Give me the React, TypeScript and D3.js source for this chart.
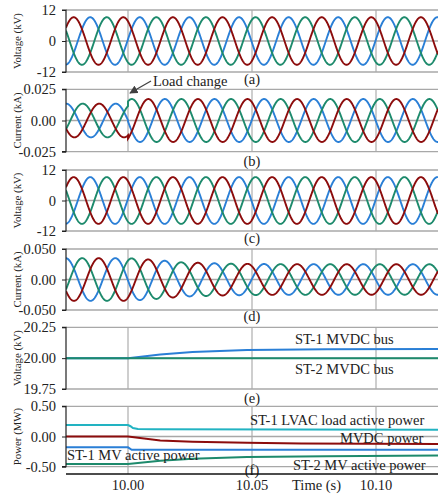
import React, { useEffect, useRef } from 'react'
import * as d3 from 'd3'

// time axis
const timeDomain = [9.975, 10.125]
const timeTicks = [10.0, 10.05, 10.1]
const timeTickLabels = ['10.00', '10.05', '10.10']
const FREQ = 50

// three-phase waveforms: blue, green, red (lag of each phase vs red, in periods)
const phaseColors = ['#2a7fd6', '#1d8a6c', '#8c0c0c']
const phaseLag = [1 / 3, 2 / 3, 0]

// (a) and (c) voltages, kV
const voltEnvTime = [9.975, 10.125]
const voltEnvAmp = [9.2, 9.2]
const voltRedPeak = 9.9981

// (b) current, kA - step at the load change
const curBBeforeTime = [9.975, 10.0]
const curBBeforeAmp = [0.0135, 0.0135]
const curBBeforePeak = 9.9884
const curBAfterTime = [10.0, 10.125]
const curBAfterAmp = [0.0172, 0.0172]
const curBAfterPeak = 10.0082

// (d) current, kA - decaying envelope
const curDEnvTime = [9.975, 10.0, 10.008, 10.015, 10.022, 10.029, 10.04, 10.06, 10.125]
const curDEnvAmp = [0.035, 0.035, 0.033, 0.0307, 0.028, 0.0274, 0.026, 0.0252, 0.025]
const curDRedPeak = 10.0082

// (e) MVDC bus voltages, kV
const st1BusTime = [9.975, 10.0, 10.013, 10.026, 10.048, 10.08, 10.125]
const st1Bus = [20.0, 20.0, 20.03, 20.049, 20.066, 20.073, 20.075]
const st2BusTime = [9.975, 10.125]
const st2Bus = [20.0, 20.0]

// (f) powers, MW
const lvacTime = [9.975, 10.0, 10.001, 10.002, 10.004, 10.01, 10.125]
const lvacLoad = [0.19, 0.19, 0.17, 0.14, 0.125, 0.12, 0.11]
const mvdcTime = [9.975, 10.0, 10.013, 10.026, 10.048, 10.07, 10.125]
const mvdcPower = [0, 0, -0.066, -0.087, -0.105, -0.115, -0.125]
const st1MvTime = [9.975, 10.0, 10.0015, 10.125]
const st1Mv = [-0.18, -0.18, -0.22, -0.22]
const st2MvTime = [9.975, 10.0, 10.013, 10.026, 10.048, 10.08, 10.125]
const st2Mv = [-0.455, -0.455, -0.4, -0.37, -0.34, -0.325, -0.315]

const panels = [
  { key: 'a', top: 10, bottom: 72, domain: [-12, 12], ticks: [-12, 0, 12], labels: ['-12', '0', '12'], title: 'Voltage (kV)', tag: '(a)', tagY: 84 },
  { key: 'b', top: 89.3, bottom: 151.7, domain: [-0.025, 0.025], ticks: [-0.025, 0, 0.025], labels: ['-0.025', '0.00', '0.025'], title: 'Current (kA)', tag: '(b)', tagY: 165.5 },
  { key: 'c', top: 170, bottom: 231, domain: [-12, 12], ticks: [-12, 0, 12], labels: ['-12', '0', '12'], title: 'Voltage (kV)', tag: '(c)', tagY: 243 },
  { key: 'd', top: 249, bottom: 310, domain: [-0.05, 0.05], ticks: [-0.05, 0, 0.05], labels: ['-0.050', '0.00', '0.050'], title: 'Current (kA)', tag: '(d)', tagY: 321 },
  { key: 'e', top: 327.3, bottom: 389, domain: [19.75, 20.25], ticks: [19.75, 20, 20.25], labels: ['19.75', '20.00', '20.25'], title: 'Voltage (kV)', tag: '(e)', tagY: 403 },
  { key: 'f', top: 406.3, bottom: 466.7, domain: [-0.5, 0.5], ticks: [-0.5, 0, 0.5], labels: ['-0.50', '0.00', '0.50'], title: 'Power (MW)', tag: '(f)', tagY: 474.5 },
]

const FONT = '"Liberation Serif", "Times New Roman", serif'

// sample one phase over segments [times, amps, redPeak]
const sampleSegments = (segs, lag) => {
  const pts = []
  segs.forEach(([times, amps, peak]) => {
    const env = d3.scaleLinear().domain(times).range(amps).clamp(true)
    const t0 = times[0]
    const t1 = times[times.length - 1]
    const n = Math.round((t1 - t0) / 0.0001)
    for (let i = 0; i <= n; i++) {
      const t = t0 + ((t1 - t0) * i) / n
      const a = env(t)
      pts.push([t, a * Math.cos(2 * Math.PI * FREQ * (t - peak - lag / FREQ))])
    }
  })
  return pts
}

const App = () => {
  const svgRef = useRef(null)

  useEffect(() => {
    const svg = d3.select(svgRef.current)
    svg.selectAll('*').remove()

    const left = 66
    const right = 438
    const x = d3.scaleLinear().domain(timeDomain).range([left, right])

    const defs = svg.append('defs')
    defs.append('clipPath').attr('id', 'plotclip')
      .append('rect').attr('x', left).attr('y', 0).attr('width', right - left).attr('height', 498)
    defs.append('marker')
      .attr('id', 'arrowhead').attr('viewBox', '0 0 10 10').attr('refX', 9).attr('refY', 5)
      .attr('markerWidth', 7).attr('markerHeight', 7).attr('orient', 'auto-start-reverse')
      .append('path').attr('d', 'M0,0 L10,5 L0,10 z').attr('fill', '#404040')

    const waveSets = {
      a: [[voltEnvTime, voltEnvAmp, voltRedPeak]],
      b: [[curBBeforeTime, curBBeforeAmp, curBBeforePeak], [curBAfterTime, curBAfterAmp, curBAfterPeak]],
      c: [[voltEnvTime, voltEnvAmp, voltRedPeak]],
      d: [[curDEnvTime, curDEnvAmp, curDRedPeak]],
    }

    const flatSeries = {
      e: [
        { t: st1BusTime, v: st1Bus, color: '#2a7fd6' },
        { t: st2BusTime, v: st2Bus, color: '#1d8a6c' },
      ],
      f: [
        { t: lvacTime, v: lvacLoad, color: '#22b3c2' },
        { t: mvdcTime, v: mvdcPower, color: '#8c0c0c' },
        { t: st1MvTime, v: st1Mv, color: '#2a7fd6' },
        { t: st2MvTime, v: st2Mv, color: '#1d8a6c' },
      ],
    }

    panels.forEach((p) => {
      const y = d3.scaleLinear().domain(p.domain).range([p.bottom, p.top])
      const g = svg.append('g')

      // gridlines
      const gridBottom = p.key === 'f' ? 474 : p.bottom
      g.selectAll('line.vgrid').data(timeTicks).enter().append('line')
        .attr('x1', (d) => x(d)).attr('x2', (d) => x(d))
        .attr('y1', p.top).attr('y2', gridBottom)
        .attr('stroke', '#b4b4b4').attr('stroke-width', 1.3)
      g.selectAll('line.hgrid').data(p.ticks).enter().append('line')
        .attr('x1', left).attr('x2', right)
        .attr('y1', (d) => y(d)).attr('y2', (d) => y(d))
        .attr('stroke', '#a8a8a8').attr('stroke-width', 1.3)

      const line = d3.line().x((d) => x(d[0])).y((d) => y(d[1]))
      const plot = g.append('g').attr('clip-path', 'url(#plotclip)')

      if (waveSets[p.key]) {
        phaseColors.forEach((c, i) => {
          plot.append('path')
            .attr('d', line(sampleSegments(waveSets[p.key], phaseLag[i])))
            .attr('fill', 'none').attr('stroke', c).attr('stroke-width', 1.9)
        })
      } else {
        flatSeries[p.key].forEach((s) => {
          plot.append('path')
            .attr('d', line(s.t.map((t, i) => [t, s.v[i]])))
            .attr('fill', 'none').attr('stroke', s.color).attr('stroke-width', 2)
        })
      }

      // y axis
      const axis = g.append('g').attr('transform', `translate(${left},0)`)
        .call(d3.axisLeft(y).tickValues(p.ticks).tickSize(4).tickPadding(6)
          .tickFormat((d, i) => p.labels[i]))
      axis.select('.domain').attr('stroke', '#222').attr('stroke-width', 1.2)
        .attr('d', `M-4,${p.bottom}H0V${p.top}H-4`)
      axis.selectAll('.tick line').attr('stroke', '#222')
      axis.selectAll('.tick text').attr('font-family', FONT).attr('font-size', 14.5).attr('fill', '#222')

      // y title
      g.append('text')
        .attr('transform', `translate(17,${(p.top + p.bottom) / 2}) rotate(-90)`)
        .attr('text-anchor', 'middle').attr('dominant-baseline', 'central')
        .attr('font-family', FONT).attr('font-size', 10.8).attr('fill', '#222')
        .text(p.title)

      // panel tag
      svg.append('text')
        .attr('x', 252).attr('y', p.tagY).attr('text-anchor', 'middle')
        .attr('font-family', FONT).attr('font-size', 14.5).attr('fill', '#222')
        .text(p.tag)
    })

    // bottom time axis
    svg.append('line').attr('x1', left).attr('x2', right).attr('y1', 474).attr('y2', 474)
      .attr('stroke', '#111').attr('stroke-width', 1.3)
    svg.selectAll('text.xtick').data(timeTicks).enter().append('text')
      .attr('x', (d) => x(d)).attr('y', 490).attr('text-anchor', 'middle')
      .attr('font-family', FONT).attr('font-size', 14.5).attr('fill', '#222')
      .text((d, i) => timeTickLabels[i])
    svg.append('text').attr('x', 292).attr('y', 490)
      .attr('font-family', FONT).attr('font-size', 14.5).attr('fill', '#222')
      .text('Time (s)')

    // annotations
    const notes = [
      ['ST-1 MVDC bus', 295, 344],
      ['ST-2 MVDC bus', 295, 374],
      ['ST-1 LVAC load active power', 250, 425],
      ['MVDC power', 340, 442.5],
      ['ST-2 MV active power', 293, 470],
      ['ST-1 MV active power', 67, 460],
      ['Load change', 153, 86],
    ]
    svg.selectAll('text.note').data(notes).enter().append('text')
      .attr('x', (d) => d[1]).attr('y', (d) => d[2])
      .attr('font-family', FONT).attr('font-size', 14.5).attr('fill', '#222')
      .text((d) => d[0])

    svg.append('line')
      .attr('x1', 151).attr('y1', 81).attr('x2', 130).attr('y2', 93)
      .attr('stroke', '#404040').attr('stroke-width', 1.2)
      .attr('marker-end', 'url(#arrowhead)')
  }, [])

  return (
    <svg ref={svgRef} width={438} height={498}
      style={{ position: 'absolute', left: 0, top: 0, background: '#fff' }} />
  )
}

export default App
